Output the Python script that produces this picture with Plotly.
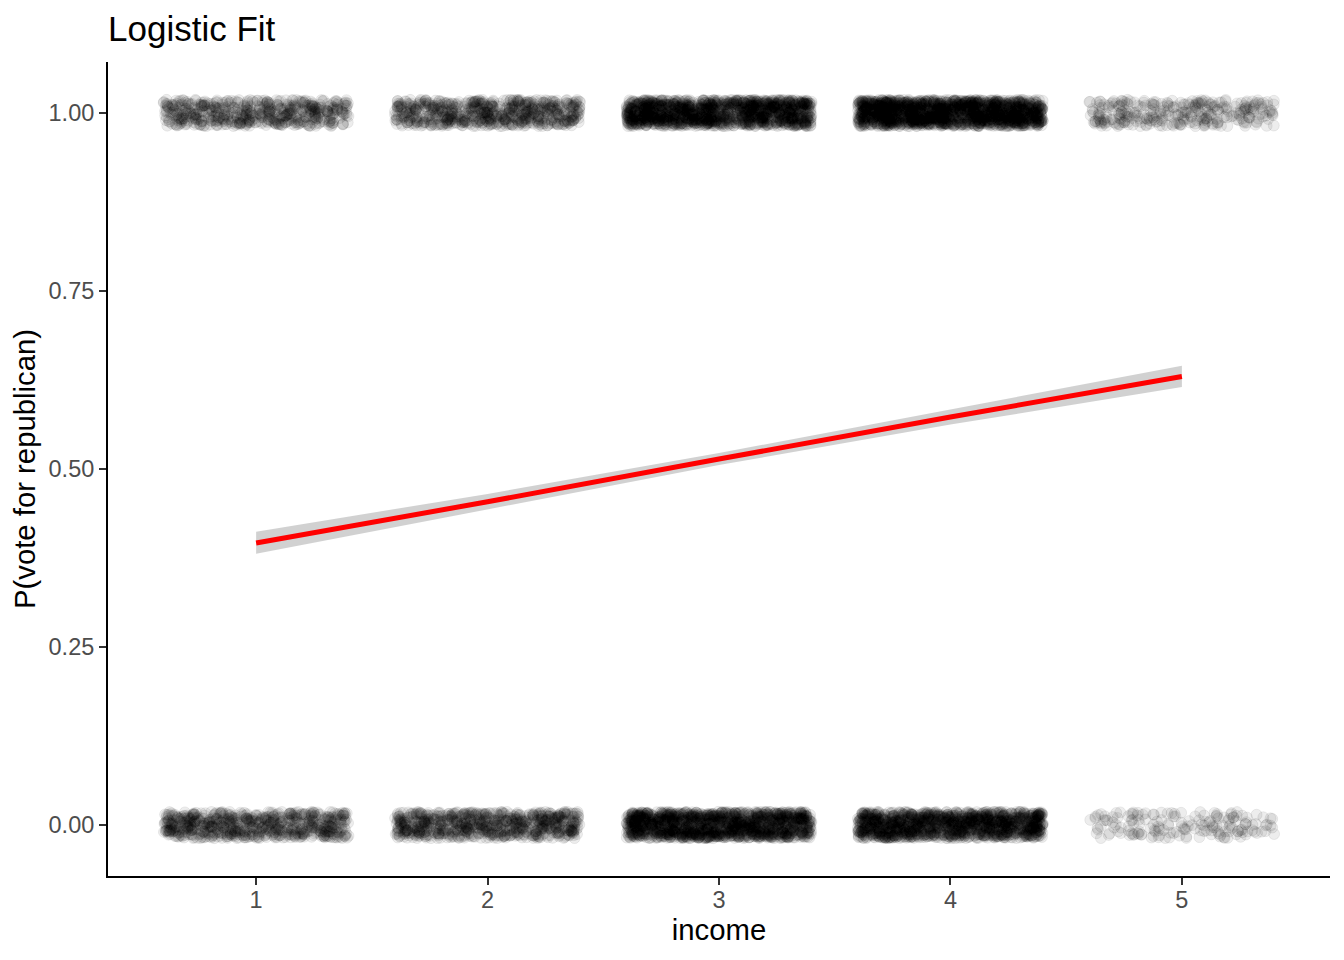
import numpy as np
import plotly.graph_objects as go

# ---- data ----
income_levels = [1, 2, 3, 4, 5]
n_vote_dem = [720, 780, 1500, 1400, 170]    # outcome 0 counts per income level
n_vote_rep = [580, 700, 1500, 1800, 320]    # outcome 1 counts per income level

fit_x = [1, 2, 3, 4, 5]
fit_p = [0.396, 0.454, 0.514, 0.573, 0.630]
fit_lower = [0.381, 0.443, 0.5055, 0.5624, 0.615]
fit_upper = [0.412, 0.465, 0.5225, 0.5836, 0.645]

x_ticks = [1, 2, 3, 4, 5]
y_ticks = [0.0, 0.25, 0.5, 0.75, 1.0]
y_tick_labels = ["0.00", "0.25", "0.50", "0.75", "1.00"]

# ---- build jittered points (geom_jitter style display offsets) ----
rng = np.random.default_rng(11)
xs, ys = [], []
for lvl, n0, n1 in zip(income_levels, n_vote_dem, n_vote_rep):
    for outcome, n in ((0, n0), (1, n1)):
        xs.append(lvl + rng.uniform(-0.4, 0.4, n))
        ys.append(outcome + rng.uniform(-0.0185, 0.0185, n))
xs = np.concatenate(xs)
ys = np.concatenate(ys)

FONT = "Liberation Sans, Arial, Helvetica, sans-serif"

fig = go.Figure()
fig.add_trace(go.Scatter(
    x=xs, y=ys, mode="markers",
    marker=dict(size=11, color="rgba(0,0,0,0.07)",
                line=dict(width=1, color="rgba(0,0,0,0.07)")),
    hoverinfo="skip", showlegend=False,
))
# confidence band
fig.add_trace(go.Scatter(
    x=fit_x, y=fit_upper, mode="lines", line=dict(width=0, color="rgba(0,0,0,0)"),
    hoverinfo="skip", showlegend=False,
))
fig.add_trace(go.Scatter(
    x=fit_x, y=fit_lower, mode="lines", line=dict(width=0, color="rgba(0,0,0,0)"),
    fill="tonexty", fillcolor="rgba(153,153,153,0.45)",
    hoverinfo="skip", showlegend=False,
))
fig.add_trace(go.Scatter(
    x=fit_x, y=fit_p, mode="lines", line=dict(width=5, color="#FF0000"),
    hoverinfo="skip", showlegend=False,
))

fig.update_layout(
    width=1344, height=960,
    margin=dict(l=100, r=22, t=54, b=92),
    paper_bgcolor="white", plot_bgcolor="white",
    font=dict(family=FONT, color="black"),
    title=dict(
        text="Logistic Fit", font=dict(size=35, color="black", family=FONT),
        x=100 / 1344, xanchor="left", xref="container",
        y=1 - 21 / 960, yanchor="middle", yref="container",
    ),
    xaxis=dict(
        range=[0.36, 5.64], tickmode="array", tickvals=x_ticks,
        ticktext=[str(v) for v in x_ticks],
        showgrid=False, zeroline=False,
        showline=True, linecolor="black", linewidth=2,
        ticks="outside", ticklen=7, tickwidth=2, tickcolor="#333333",
        tickfont=dict(size=23.5, color="#4D4D4D", family=FONT),
        ticklabelstandoff=-5,
        title=dict(text="income", font=dict(size=29.3, color="black", family=FONT), standoff=1),
        automargin=False,
    ),
    yaxis=dict(
        range=[-0.0716, 1.0716], tickmode="array", tickvals=y_ticks,
        ticktext=y_tick_labels,
        showgrid=False, zeroline=False,
        showline=True, linecolor="black", linewidth=2,
        ticks="outside", ticklen=7, tickwidth=2, tickcolor="#333333",
        tickfont=dict(size=23.5, color="#4D4D4D", family=FONT),
        title=dict(text="P(vote for republican)", font=dict(size=29.3, color="black", family=FONT), standoff=5),
        automargin=False,
    ),
)

fig.write_html("out.html")
